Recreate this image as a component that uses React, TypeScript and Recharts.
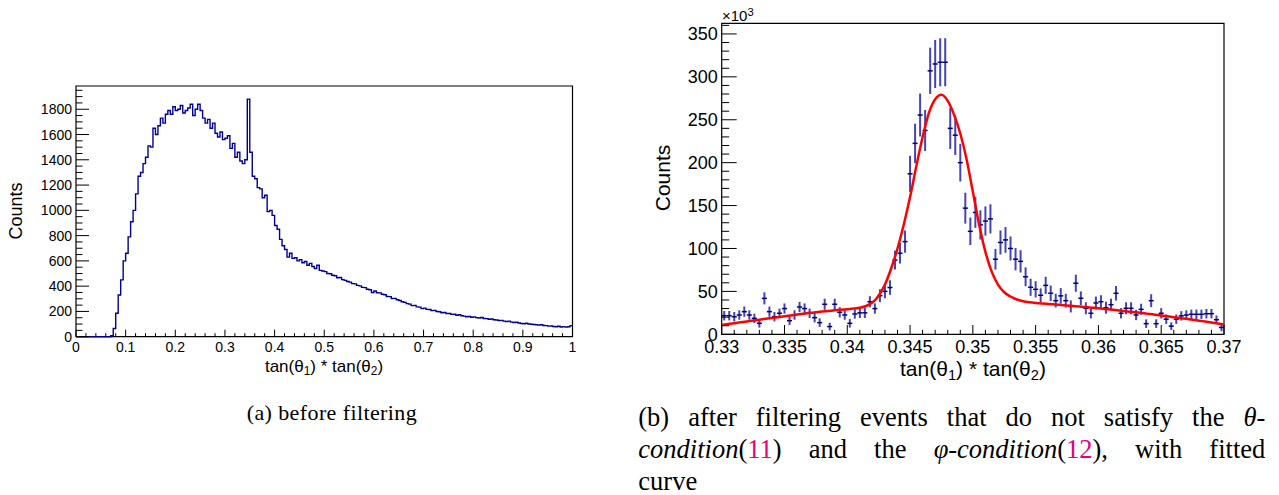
import React from "react";
import {
  ComposedChart,
  Line,
  Scatter,
  ErrorBar,
  XAxis,
  YAxis,
  ReferenceArea
} from "recharts";

const SANS = "'Liberation Sans', Arial, Helvetica, sans-serif";
const SERIF = "'Liberation Serif', 'Times New Roman', serif";

// (a) before filtering: bins of width 0.005 from 0 to 1
const RAW_BIN = 0.005;
const rawCounts = [
  0, 0, 0, 0, 0, 0, 0, 0, 0, 0, 0, 0, 0, 0, 8, 65, 185, 330, 450, 600,
  660, 790, 910, 1000, 1130, 1270, 1300, 1370, 1420, 1510, 1500, 1650, 1600, 1670, 1730, 1690, 1760, 1790, 1760, 1820,
  1790, 1800, 1830, 1770, 1790, 1810, 1840, 1750, 1800, 1840, 1790, 1730, 1690, 1720, 1650, 1690, 1610, 1580, 1620, 1560,
  1570, 1590, 1490, 1530, 1420, 1460, 1390, 1370, 1400, 1880, 1460, 1270, 1250, 1180, 1170, 1100, 1120, 990, 1000, 960,
  880, 850, 770, 720, 690, 630, 660, 620, 625, 600, 610, 585, 595, 565, 580, 555, 540, 565, 525, 520,
  515, 500, 498, 486, 482, 466, 468, 452, 446, 437, 432, 420, 418, 406, 402, 390, 388, 376, 372, 350,
  362, 348, 347, 336, 332, 318, 317, 302, 303, 292, 287, 276, 272, 262, 258, 246, 248, 236, 234, 222,
  226, 216, 215, 206, 208, 199, 197, 190, 191, 184, 184, 177, 178, 170, 174, 166, 163, 158, 160, 154,
  157, 151, 148, 152, 144, 143, 138, 140, 134, 132, 128, 129, 123, 120, 123, 115, 112, 114, 108, 104,
  103, 106, 100, 99, 97, 94, 92, 95, 89, 88, 84, 85, 81, 79, 83, 77, 80, 76, 79, 88
];

// (b) after filtering: bins of width 0.0004 from 0.33 to 0.37, counts in units of 10^3
const FILT_START = 0.33;
const FILT_BIN = 0.0004;
const filteredCounts = [
  21.7, 21.7, 20.5, 22.5, 26.4, 22.5, 18.6, 12.8, 41.9, 26.4,
  20.5, 24.5, 30, 15.9, 22.5, 31.8, 30, 24.5, 19.4, 13.6,
  35, 9, 35, 25.6, 22.5, 12.8, 23.7, 25, 25, 37.9,
  30, 45, 50, 54.5, 86.5, 94.5, 108, 187, 222.5, 255.5,
  237.5, 307, 315, 317, 317, 240, 232, 200, 147, 120,
  142, 127.5, 132, 134.5, 87.5, 107, 110, 100, 87.5, 85,
  67, 54.8, 52.4, 45.5, 57, 47.8, 39.2, 44.8, 39.2, 32.5,
  59.5, 42, 30.3, 24.5, 36.5, 38, 31, 34.5, 47.8, 24.5,
  30.3, 30.3, 22.5, 29.1, 12.4, 39.2, 12.4, 24.5, 17.6, 9.5,
  17.6, 21.5, 22.5, 23.3, 23.3, 23.3, 24, 24, 17, 8
];
const filteredErrors = [
  5.5, 5.5, 5.5, 5.5, 6, 5.5, 5.5, 5, 7, 6,
  5.5, 5.5, 6, 5, 5.5, 6, 6, 5.5, 5.5, 5,
  6.5, 4.5, 6.5, 6, 5.5, 5, 5.5, 6, 6, 6.5,
  6, 7.5, 8, 8.5, 11, 12, 13, 21, 23, 25,
  24, 27, 28, 28, 28, 24, 23, 22, 18, 16,
  18, 17, 17, 17, 12, 14, 15, 14, 13, 13,
  11, 10, 9.5, 8, 10, 9, 8, 9, 8, 7,
  10, 8, 7, 6, 7.5, 7.5, 7, 7, 8.5, 6,
  7, 7, 6, 6.5, 5, 7.5, 5, 6, 5.5, 4.5,
  5.5, 5.5, 5.5, 5.5, 5.5, 5.5, 5.5, 5.5, 5, 4.5
];

// fitted curve read every 0.0005 from 0.33 to 0.37 (x10^3)
const FIT_STEP = 0.0005;
const fitValues = [
  11, 12, 13, 14, 15, 16, 17, 18, 19, 20,
  21, 22, 23, 24, 25, 25.8, 26.5, 27.2, 27.9, 28.6,
  29.3, 30, 31, 33, 37, 45, 58, 77, 100, 128,
  160, 196, 230, 258, 274, 279, 272, 256, 234, 204,
  166, 128, 96, 73, 58, 49, 44, 40.5, 38.5, 37.3,
  36.5, 36, 35.4, 34.8, 34.2, 33.6, 33, 32.4, 31.7, 31,
  30.3, 29.6, 28.8, 28, 27.2, 26.4, 25.6, 24.7, 23.8, 22.9,
  22, 21, 20, 19, 18, 17, 15.9, 14.8, 13.7, 12.6,
  11.5
];

const steps = (start: number, stop: number, step: number) => {
  const n = Math.round((stop - start) / step);
  const out: number[] = [];
  for (let i = 0; i <= n; i++) out.push(+(start + i * step).toFixed(6));
  return out;
};

const leftXMajor = steps(0, 1, 0.1);
const leftXTicks = steps(0, 1, 0.02);
const leftYMajor = steps(0, 1800, 200);
const leftYTicks = steps(0, 1950, 50);
const rightXMajor = steps(0.33, 0.37, 0.005);
const rightXTicks = steps(0.33, 0.37, 0.001);
const rightYMajor = steps(0, 350, 50);
const rightYTicks = steps(0, 360, 10);

const LEFT_YMAX = 1984;
const RIGHT_YMAX = 362.4;

// histogram drawn as steps from left bin edges, closed at x = 1
const histTable = rawCounts
  .map((v, i) => ({ x: +(i * RAW_BIN).toFixed(6), v }))
  .concat([{ x: 1, v: rawCounts[rawCounts.length - 1] }]);

const pointTable = filteredCounts.map((y, i) => ({
  x: FILT_START + (i + 0.5) * FILT_BIN,
  y,
  ey: filteredErrors[i],
  ex: FILT_BIN / 2
}));

const fitTable = fitValues.map((y, i) => ({ x: FILT_START + i * FIT_STEP, y }));

type TickStyle = {
  majors: number[];
  majorLen: number;
  minorLen: number;
  fontSize: number;
  gap: number;
};

const isMajor = (v: number, majors: number[]) => majors.some((m) => Math.abs(m - v) < 1e-7);

const makeXTick = (s: TickStyle) => (props: any) => {
  const { x, y, payload } = props;
  const major = isMajor(payload.value, s.majors);
  return (
    <g>
      <line x1={x} x2={x} y1={y} y2={y - (major ? s.majorLen : s.minorLen)} stroke="#000" strokeWidth={1} />
      {major && (
        <text x={x} y={y + s.gap} textAnchor="middle" fontSize={s.fontSize} fontFamily={SANS} fill="#000">
          {String(payload.value)}
        </text>
      )}
    </g>
  );
};

const makeYTick = (s: TickStyle) => (props: any) => {
  const { x, y, payload } = props;
  const major = isMajor(payload.value, s.majors);
  return (
    <g>
      <line x1={x} x2={x + (major ? s.majorLen : s.minorLen)} y1={y} y2={y} stroke="#000" strokeWidth={1} />
      {major && (
        <text x={x - s.gap} y={y} dy="0.36em" textAnchor="end" fontSize={s.fontSize} fontFamily={SANS} fill="#000">
          {String(payload.value)}
        </text>
      )}
    </g>
  );
};

const NoDot = () => <g />;

const abs = (left: number, top: number, extra: React.CSSProperties = {}): React.CSSProperties => ({
  position: "absolute",
  left,
  top,
  whiteSpace: "nowrap",
  lineHeight: 1,
  ...extra
});

const AxisTitle = () => (
  <>
    tan(θ<sub style={{ fontSize: "70%", verticalAlign: "-0.25em" }}>1</sub>) * tan(θ
    <sub style={{ fontSize: "70%", verticalAlign: "-0.25em" }}>2</sub>)
  </>
);

const pink = { color: "#e6007e" };

export default function App() {
  return (
    <div style={{ position: "absolute", left: 0, top: 0, width: 1279, height: 495, background: "#fff", overflow: "hidden" }}>
      <div style={abs(0, 0)}>
        <ComposedChart width={600} height={390} data={histTable} margin={{ top: 86, right: 27.5, bottom: 23.3, left: 0 }}>
          <XAxis
            type="number"
            dataKey="x"
            domain={[0, 1]}
            ticks={leftXTicks}
            interval={0}
            height={30}
            tickSize={0}
            tickMargin={0}
            tickLine={false}
            axisLine={false}
            tick={makeXTick({ majors: leftXMajor, majorLen: 7, minorLen: 3.5, fontSize: 14, gap: 15.3 })}
          />
          <YAxis
            type="number"
            domain={[0, LEFT_YMAX]}
            ticks={leftYTicks}
            interval={0}
            width={76}
            tickSize={0}
            tickMargin={0}
            tickLine={false}
            axisLine={false}
            tick={makeYTick({ majors: leftYMajor, majorLen: 13, minorLen: 6.5, fontSize: 14, gap: 4 })}
          />
          <ReferenceArea x1={0} x2={1} y1={0} y2={LEFT_YMAX} fill="none" stroke="#000" strokeWidth={1.2} />
          <Line type="stepAfter" dataKey="v" stroke="#000099" strokeWidth={1.4} dot={false} isAnimationActive={false} />
        </ComposedChart>
      </div>

      <div style={abs(600, 0)}>
        <ComposedChart width={679} height={390} margin={{ top: 23.3, right: 55, bottom: 25.7, left: 0 }}>
          <XAxis
            type="number"
            dataKey="x"
            domain={[0.33, 0.37]}
            allowDataOverflow
            ticks={rightXTicks}
            interval={0}
            height={30}
            tickSize={0}
            tickMargin={0}
            tickLine={false}
            axisLine={false}
            tick={makeXTick({ majors: rightXMajor, majorLen: 9.3, minorLen: 4.5, fontSize: 18, gap: 18.7 })}
          />
          <YAxis
            type="number"
            dataKey="y"
            domain={[0, RIGHT_YMAX]}
            allowDataOverflow
            ticks={rightYTicks}
            interval={0}
            width={121.7}
            tickSize={0}
            tickMargin={0}
            tickLine={false}
            axisLine={false}
            tick={makeYTick({ majors: rightYMajor, majorLen: 15, minorLen: 7.5, fontSize: 18, gap: 4 })}
          />
          <ReferenceArea x1={0.33} x2={0.37} y1={0} y2={RIGHT_YMAX} fill="none" stroke="#000" strokeWidth={1.2} />
          <Scatter data={pointTable} shape={NoDot} isAnimationActive={false}>
            <ErrorBar dataKey="ey" direction="y" width={0} stroke="#4444b4" strokeWidth={2} />
            <ErrorBar dataKey="ex" direction="x" width={0} stroke="#00007a" strokeWidth={1.5} />
          </Scatter>
          <Line
            data={fitTable}
            type="monotone"
            dataKey="y"
            stroke="#ff0000"
            strokeWidth={2.5}
            dot={false}
            isAnimationActive={false}
          />
        </ComposedChart>
      </div>

      {/* axis titles */}
      <div style={abs(16, 211, { fontFamily: SANS, fontSize: 18, transform: "translate(-50%, -50%) rotate(-90deg)" })}>
        Counts
      </div>
      <div style={abs(324, 357.6, { fontFamily: SANS, fontSize: 17, transform: "translateX(-50%)" })}>
        <AxisTitle />
      </div>
      <div style={abs(662, 178, { fontFamily: SANS, fontSize: 21, transform: "translate(-50%, -50%) rotate(-90deg)" })}>
        Counts
      </div>
      <div style={abs(973, 358.2, { fontFamily: SANS, fontSize: 21, transform: "translateX(-50%)" })}>
        <AxisTitle />
      </div>
      <div style={abs(722, 7, { fontFamily: SANS, fontSize: 15 })}>
        ×10<sup style={{ fontSize: "75%", verticalAlign: "0.45em" }}>3</sup>
      </div>

      {/* captions */}
      <div style={abs(246.7, 401.5, { fontFamily: SERIF, fontSize: 22, letterSpacing: 0.4 })}>(a) before filtering</div>
      <div
        style={{
          position: "absolute",
          left: 638.3,
          top: 401,
          width: 627,
          fontFamily: SERIF,
          fontSize: 26.5,
          lineHeight: "32px",
          letterSpacing: 0
        }}
      >
        <div style={{ textAlign: "justify", textAlignLast: "justify", whiteSpace: "nowrap" }}>
          (b) after filtering events that do not satisfy the <i>θ</i>-
        </div>
        <div style={{ textAlign: "justify", textAlignLast: "justify", whiteSpace: "nowrap" }}>
          <i>condition</i>(<span style={pink}>11</span>) and the <i>φ-condition</i>(<span style={pink}>12</span>), with fitted
        </div>
        <div>curve</div>
      </div>
    </div>
  );
}
